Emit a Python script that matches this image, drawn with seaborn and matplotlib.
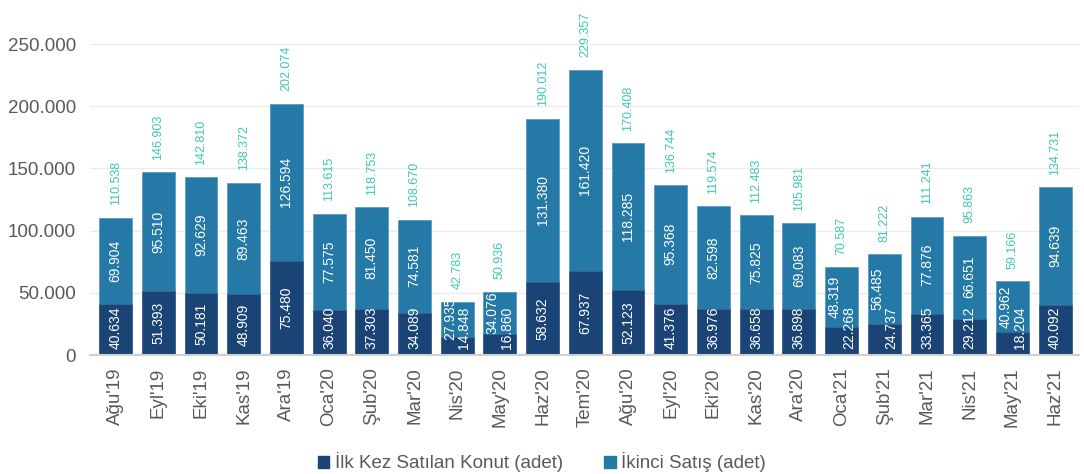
import numpy as np
import matplotlib
matplotlib.use("Agg")
import matplotlib.pyplot as plt
import seaborn as sns
from matplotlib.patches import Patch

months = ["Ağu'19", "Eyl'19", "Eki'19", "Kas'19", "Ara'19", "Oca'20", "Şub'20",
          "Mar'20", "Nis'20", "May'20", "Haz'20", "Tem'20", "Ağu'20", "Eyl'20",
          "Eki'20", "Kas'20", "Ara'20", "Oca'21", "Şub'21", "Mar'21", "Nis'21",
          "May'21", "Haz'21"]
first_sale = [40634, 51393, 50181, 48909, 75480, 36040, 37303, 34089, 14848,
              16860, 58632, 67937, 52123, 41376, 36976, 36658, 36898, 22268,
              24737, 33365, 29212, 18204, 40092]
second_sale = [69904, 95510, 92629, 89463, 126594, 77575, 81450, 74581, 27935,
               34076, 131380, 161420, 118285, 95368, 82598, 75825, 69083, 48319,
               56485, 77876, 66651, 40962, 94639]
series_names = ["İlk Kez Satılan Konut (adet)", "İkinci Satış (adet)"]

NAVY = "#1b4476"
BLUE = "#2479a7"
TEAL = "#3cc8b4"
GRAY = "#595959"

totals = [a + b for a, b in zip(first_sale, second_sale)]


def fmt(v):
    return f"{v:,}".replace(",", ".")


sns.set_style("white")
plt.rcParams["font.family"] = ["Liberation Sans", "DejaVu Sans"]

fig = plt.figure(figsize=(10.84, 4.74), dpi=100)
ax = fig.add_axes([0.083, 0.251, 0.912, 0.656])

sns.barplot(x=months, y=totals, color=BLUE, width=0.77, saturation=1, ax=ax,
            edgecolor="#5d9cc4", linewidth=0.6)
sns.barplot(x=months, y=first_sale, color=NAVY, width=0.77, saturation=1, ax=ax,
            edgecolor="#3d6494", linewidth=0.6)

# half height of a rotated inner label, in data units (approx)
half_h = 17000
low_min = 22000
top_bars = ax.containers[0]
for i, pt in enumerate(top_bars):
    xc = pt.get_x() + pt.get_width() / 2
    y_low = max(first_sale[i] / 2, low_min)
    y_up = first_sale[i] + second_sale[i] / 2
    dx = 0.0
    if y_up - half_h < y_low + half_h:
        # not enough room: put the two labels side by side
        dx = 0.17
    ax.text(xc + dx, y_low, fmt(first_sale[i]), rotation=90,
            ha="center", va="center", color="white", fontsize=10)
    ax.text(xc - dx, y_up, fmt(second_sale[i]),
            rotation=90, ha="center", va="center", color="white", fontsize=10)
    ax.text(xc, totals[i] + 10000, fmt(totals[i]), rotation=90,
            ha="center", va="bottom", color=TEAL, fontsize=9)

ax.set_ylim(0, 250000)
ax.set_xlim(-0.6, len(months) - 0.45)
ax.set_yticks(np.arange(0, 250001, 50000))
ax.set_yticklabels([fmt(v) for v in range(0, 250001, 50000)], fontsize=13.5, color=GRAY)
ax.tick_params(axis="x", labelrotation=90, labelsize=13.5, colors=GRAY, length=0, pad=9)
ax.tick_params(axis="y", length=0, pad=10)
ax.yaxis.grid(True, color="#ececec", linewidth=1)
ax.set_axisbelow(True)
for s in ["top", "right", "left"]:
    ax.spines[s].set_visible(False)
ax.spines["bottom"].set_color("#d0d0d0")
ax.spines["bottom"].set_linewidth(1.5)
for t in ax.texts:
    t.set_clip_on(False)

handles = [Patch(color=NAVY), Patch(color=BLUE)]
fig.legend(handles, series_names, loc="lower center", bbox_to_anchor=(0.5, -0.032),
           ncol=2, frameon=False, fontsize=13.5, handlelength=0.6, handleheight=0.6,
           handletextpad=0.3, columnspacing=2.2, labelcolor=GRAY)

fig.savefig("out.png", dpi=100)
